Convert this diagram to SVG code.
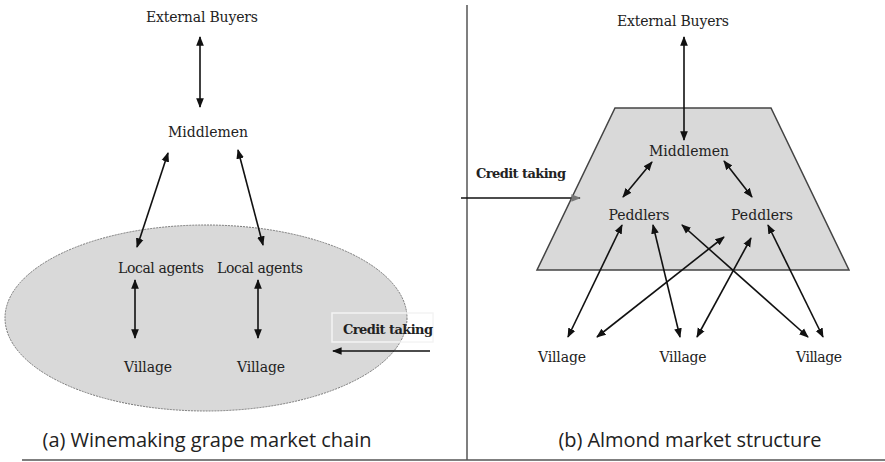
<svg xmlns="http://www.w3.org/2000/svg" width="885" height="462" viewBox="0 0 885 462">
<style>
.t{font-family:"DejaVu Serif","Liberation Serif",serif;font-size:14px;fill:#222;text-anchor:middle}
.b{font-weight:bold;font-size:13px}
.cap{font-family:"Open Sans","Noto Sans",sans-serif;font-size:20px;fill:#222;text-anchor:middle}
.c line{stroke:#111;stroke-width:1.6;marker-start:url(#ah);marker-end:url(#ah)}
.c line.one{marker-start:none}
</style>
<defs>
<marker id="ah" viewBox="0 0 10 10" refX="9" refY="5" markerWidth="6" markerHeight="6" orient="auto-start-reverse" markerUnits="strokeWidth"><path d="M0,1 L10,5 L0,9 Z" fill="#111"/></marker>
<marker id="ahg" viewBox="0 0 10 10" refX="9" refY="5" markerWidth="6" markerHeight="6" orient="auto" markerUnits="strokeWidth"><path d="M0,1 L10,5 L0,9 Z" fill="#777"/></marker>
</defs>
<rect width="885" height="462" fill="#fff"/>
<g id="panel-a-bg">
<ellipse cx="206" cy="318" rx="201" ry="93" fill="#d9d9d9" stroke="#777" stroke-width="1" stroke-dasharray="2 1"/>
<rect x="332" y="313" width="101" height="29" fill="none" stroke="#f4f4f4" stroke-width="1.5"/>
</g>
<g id="panel-b-bg">
<polygon points="615,108 771,108 849,270 537,270" fill="#d9d9d9" stroke="#444" stroke-width="1.5"/>
</g>
<g id="frame">
<line x1="467" y1="5" x2="467" y2="460" stroke="#555" stroke-width="1.5"/>
<line x1="22" y1="460" x2="885" y2="460" stroke="#555" stroke-width="1.5"/>
</g>
<g class="c" id="connectors">
<line x1="200" y1="37" x2="200" y2="107"/>
<line x1="168" y1="153" x2="137" y2="247"/>
<line x1="238" y1="150" x2="263" y2="245"/>
<line x1="135" y1="280" x2="135" y2="338"/>
<line x1="258" y1="280" x2="258" y2="338"/>
<line class="one" x1="430" y1="351" x2="333" y2="351"/>
<line x1="684" y1="37" x2="684" y2="140"/>
<line x1="652" y1="162" x2="623" y2="197"/>
<line x1="724" y1="161" x2="752" y2="197"/>
<line x1="622" y1="225" x2="568" y2="337"/>
<line x1="653" y1="225" x2="680" y2="337"/>
<line x1="682" y1="225" x2="808" y2="337"/>
<line x1="724" y1="237" x2="597" y2="337"/>
<line x1="751" y1="238" x2="697" y2="337"/>
<line x1="768" y1="225" x2="823" y2="337"/>
<line x1="461" y1="198" x2="580" y2="198" style="marker-start:none;marker-end:url(#ahg)"/>
</g>
<g id="a-external-buyers"><text class="t" x="202" y="22" textLength="112">External Buyers</text></g>
<g id="a-middlemen"><text class="t" x="208" y="137" textLength="80">Middlemen</text></g>
<g id="a-local-agents-1"><text class="t" x="161" y="273" textLength="86">Local agents</text></g>
<g id="a-local-agents-2"><text class="t" x="260" y="273" textLength="86">Local agents</text></g>
<g id="a-village-1"><text class="t" x="148" y="372" textLength="48">Village</text></g>
<g id="a-village-2"><text class="t" x="261" y="372" textLength="48">Village</text></g>
<g id="a-credit"><text class="t b" x="388" y="334" textLength="90">Credit taking</text></g>
<g id="b-external-buyers"><text class="t" x="673" y="26" textLength="112">External Buyers</text></g>
<g id="b-middlemen"><text class="t" x="689" y="156" textLength="80">Middlemen</text></g>
<g id="b-peddlers-1"><text class="t" x="639" y="220" textLength="61">Peddlers</text></g>
<g id="b-peddlers-2"><text class="t" x="762" y="220" textLength="62">Peddlers</text></g>
<g id="b-credit"><text class="t b" x="521" y="178" textLength="90">Credit taking</text></g>
<g id="b-village-1"><text class="t" x="562" y="362" textLength="48">Village</text></g>
<g id="b-village-2"><text class="t" x="683" y="362" textLength="47">Village</text></g>
<g id="b-village-3"><text class="t" x="819" y="362" textLength="46">Village</text></g>
<g id="captions">
<text class="cap" x="207" y="447" textLength="329">(a) Winemaking grape market chain</text>
<text class="cap" x="690" y="447" textLength="263">(b) Almond market structure</text>
</g>
</svg>
